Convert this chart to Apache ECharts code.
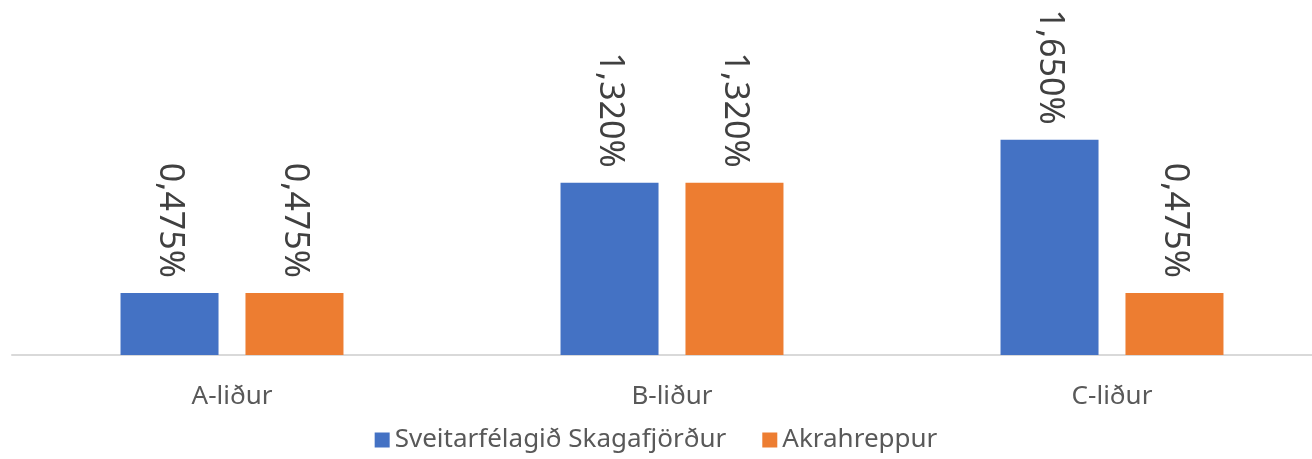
<!DOCTYPE html>
<html>
<head>
    <meta charset="UTF-8">
    <title>echarts</title>
    <style>
        html, body {
            margin: 0;
            padding: 0;
            background: #ffffff;
        }
        #chart {
            width: 1312px;
            height: 459px;
        }
    </style>
    <script src="https://cdn.jsdelivr.net/npm/echarts@6/dist/echarts.min.js"></script>
</head>
<body>
<div id="chart"></div>
<script>
    const categories = ['A-liður', 'B-liður', 'C-liður'];
    const seriesNames = ['Sveitarfélagið Skagafjörður', 'Akrahreppur'];
    const skagafjordur = [0.475, 1.320, 1.650];
    const akrahreppur = [0.475, 1.320, 0.475];

    const FONT = '"Noto Sans", sans-serif';

    let chart = echarts.init(document.getElementById('chart'), null, {renderer: 'canvas'});

    function barLabel() {
        return {
            show: true,
            position: 'top',
            rotate: -90,
            align: 'right',
            verticalAlign: 'middle',
            distance: 15,
            fontFamily: FONT,
            fontSize: 34,
            color: '#404040',
            formatter: p => p.value.toFixed(3).replace('.', ',') + '%'
        };
    }

    let option = {
        animation: false,
        color: ['#4472C4', '#ED7D31'],
        grid: {
            left: 12,
            right: -20,
            top: 94,
            bottom: 104,
            outerBoundsMode: 'none'
        },
        legend: {
            data: seriesNames,
            bottom: 1,
            left: 'center',
            icon: 'rect',
            itemWidth: 15,
            itemHeight: 15,
            itemGap: 36,
            textStyle: {
                fontFamily: FONT,
                fontSize: 26,
                color: '#595959'
            }
        },
        xAxis: {
            type: 'category',
            data: categories,
            axisLine: {lineStyle: {color: '#d9d9d9', width: 2}},
            axisTick: {show: false},
            axisLabel: {
                margin: 29,
                fontFamily: FONT,
                fontSize: 26,
                color: '#595959'
            }
        },
        yAxis: {
            type: 'value',
            min: 0,
            max: 2,
            show: false,
            splitLine: {show: false}
        },
        series: [
            {
                name: seriesNames[0],
                type: 'bar',
                data: skagafjordur,
                barWidth: 98,
                barGap: '27.5%',
                label: barLabel()
            },
            {
                name: seriesNames[1],
                type: 'bar',
                data: akrahreppur,
                barWidth: 98,
                barGap: '27.5%',
                label: barLabel()
            }
        ]
    };
    chart.setOption(option);
</script>
</body>
</html>
